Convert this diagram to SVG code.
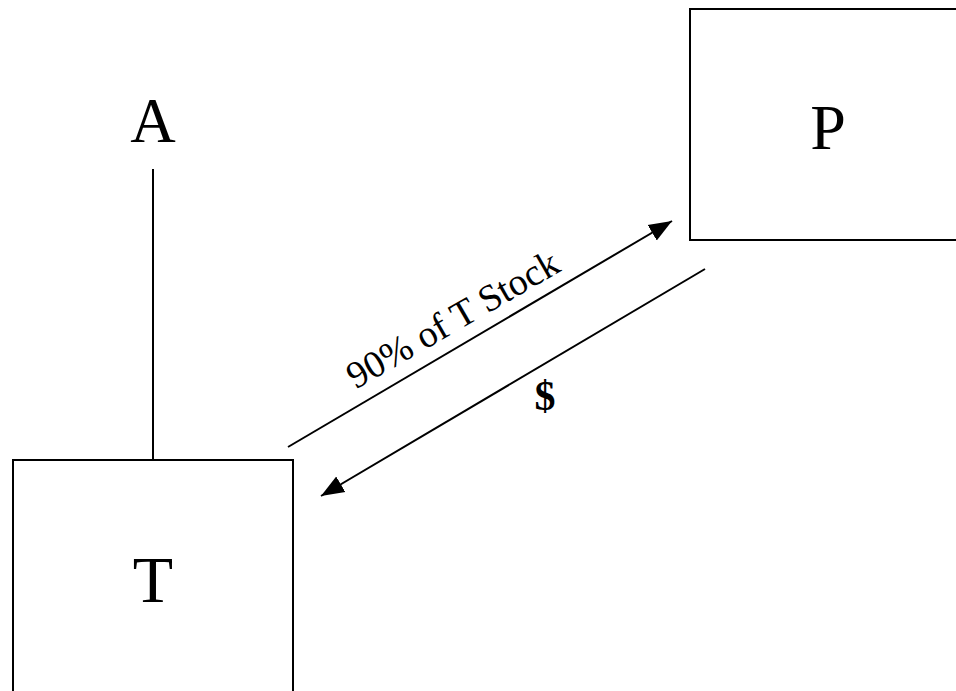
<svg xmlns="http://www.w3.org/2000/svg" width="956" height="691" viewBox="0 0 956 691">
<style>
.box{fill:#fff;stroke:#000;stroke-width:2}
.lbl{font-family:"Liberation Serif","Times New Roman",serif;fill:#000}
.conn{stroke:#000;stroke-width:2;fill:none}
</style>
<defs>
<marker id="ah" markerUnits="userSpaceOnUse" markerWidth="24" markerHeight="20" refX="23" refY="10" orient="auto" viewBox="0 0 24 20">
<path d="M0,1 L23,10 L0,19 z" fill="#000"/>
</marker>
</defs>
<rect width="956" height="691" fill="#fff"/>
<g id="node-A">
<text class="lbl" x="153" y="142" font-size="63" text-anchor="middle">A</text>
</g>
<g id="node-P">
<rect class="box" x="690" y="9" width="280" height="231"/>
<text class="lbl" x="828" y="149" font-size="64" text-anchor="middle">P</text>
</g>
<g id="node-T">
<rect class="box" x="13" y="460" width="280" height="250"/>
<text class="lbl" x="153" y="602" font-size="66" text-anchor="middle">T</text>
</g>
<g id="connectors">
<line class="conn" x1="153" y1="169" x2="153" y2="460"/>
<line class="conn" x1="288" y1="447" x2="672" y2="221" marker-end="url(#ah)"/>
<line class="conn" x1="705" y1="269" x2="321" y2="496" marker-end="url(#ah)"/>
<text class="lbl" x="0" y="0" font-size="38" text-anchor="middle" transform="translate(459,330) rotate(-30)">90% of T Stock</text>
<text class="lbl" x="545" y="410" font-size="42" font-weight="bold" text-anchor="middle">$</text>
</g>
</svg>
